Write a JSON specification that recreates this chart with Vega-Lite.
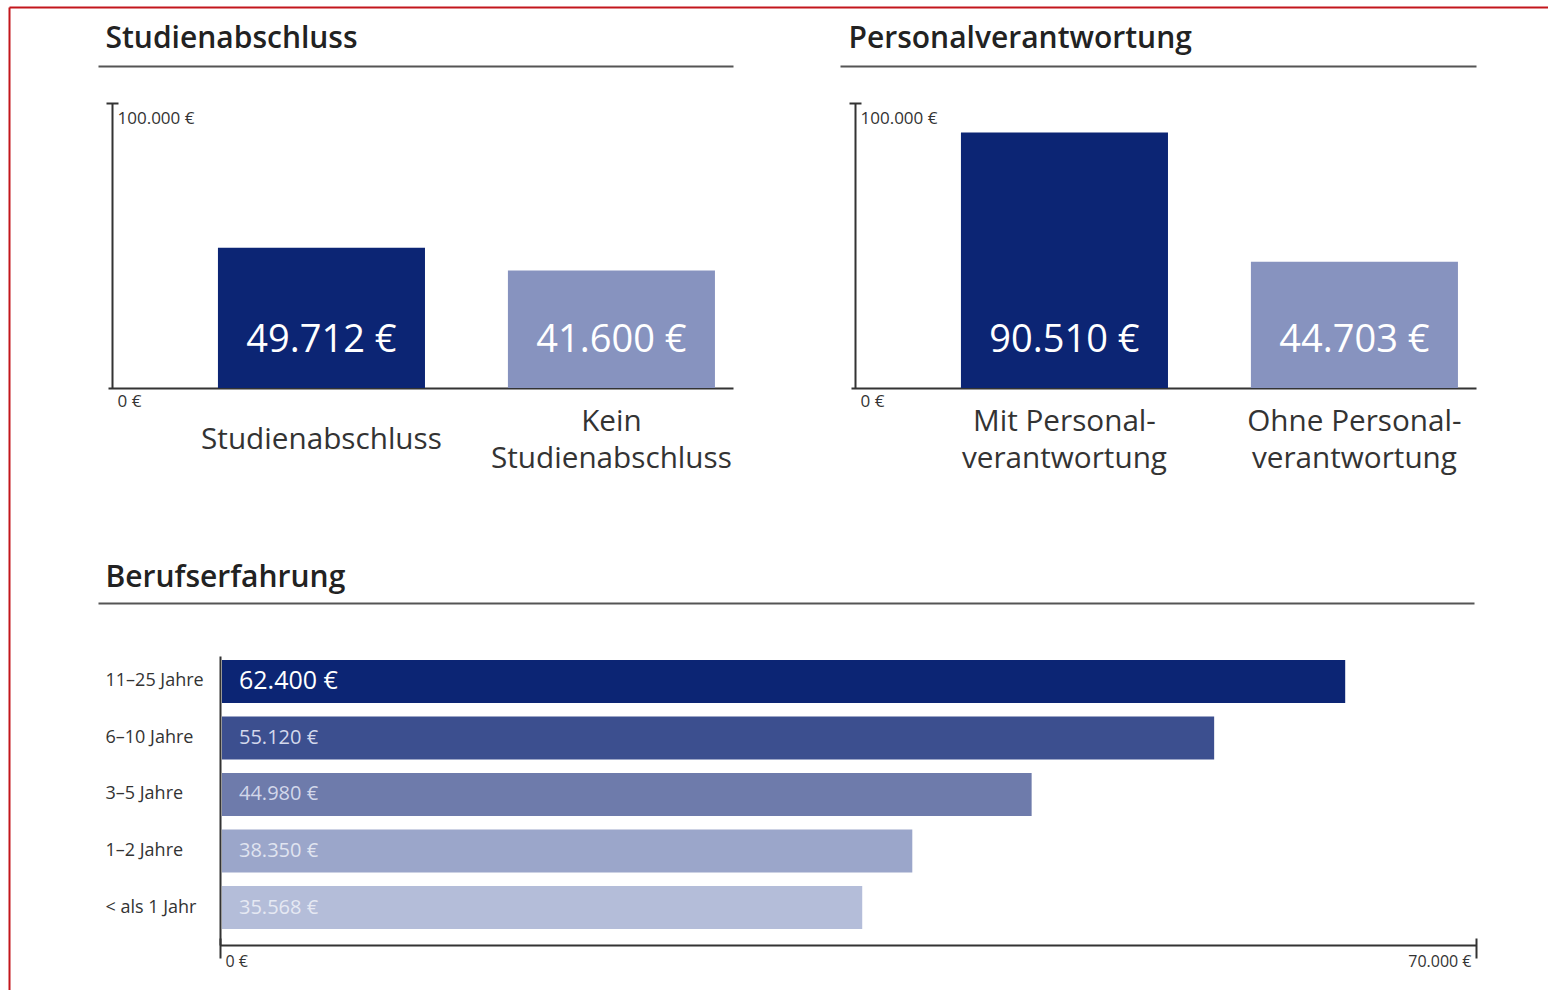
{
  "$schema": "https://vega.github.io/schema/vega-lite/v6.json",
  "width": 1548,
  "height": 990,
  "autosize": {"type": "fit", "contains": "padding"},
  "padding": 0,
  "background": "white",
  "config": {
    "view": {"stroke": null},
    "font": "Open Sans",
    "axis": {"grid": false, "labelFont": "Open Sans", "titleFont": "Open Sans"}
  },
  "datasets": {
    "studium": [
      {"cat": "Studienabschluss", "value": 49712, "label": "49.712 €"},
      {"cat": "Kein Studienabschluss", "value": 41600, "label": "41.600 €"}
    ],
    "personal": [
      {"cat": "Mit Personalverantwortung", "value": 90510, "label": "90.510 €"},
      {"cat": "Ohne Personalverantwortung", "value": 44703, "label": "44.703 €"}
    ],
    "erfahrung": [
      {"cat": "11–25 Jahre", "value": 62400, "label": "62.400 €"},
      {"cat": "6–10 Jahre", "value": 55120, "label": "55.120 €"},
      {"cat": "3–5 Jahre", "value": 44980, "label": "44.980 €"},
      {"cat": "1–2 Jahre", "value": 38350, "label": "38.350 €"},
      {"cat": "< als 1 Jahr", "value": 35568, "label": "35.568 €"}
    ]
  },
  "resolve": {
    "scale": {"x": "independent", "y": "independent", "color": "independent"},
    "axis": {"x": "independent", "y": "independent"}
  },
  "layer": [
    {
      "data": {"name": "studium"},
      "mark": {"type": "point", "opacity": 0, "size": 1},
      "encoding": {
        "x": {"datum": 0.5, "type": "quantitative", "scale": {"domain": [0, 1], "range": [9, 1548], "nice": false},
          "axis": {"orient": "top", "offset": -7, "domainColor": "#c3161c", "domainWidth": 2, "ticks": false, "labels": false, "title": null}},
        "y": {"datum": 0.5, "type": "quantitative", "scale": {"domain": [0, 1], "range": [990, 7], "nice": false},
          "axis": {"orient": "left", "offset": -9, "domainColor": "#c3161c", "domainWidth": 2, "ticks": false, "labels": false, "title": null}}
      }
    },
    {
      "data": {"name": "studium"},
      "mark": {"type": "bar"},
      "encoding": {
        "x": {"field": "cat", "type": "nominal", "sort": null,
          "scale": {"type": "band", "domain": ["Studienabschluss", "Kein Studienabschluss"], "range": [108, 733], "paddingInner": 0.286, "paddingOuter": 0.2207, "align": 0.859},
          "axis": {"orient": "bottom", "offset": -602, "domainColor": "#333", "domainWidth": 2, "ticks": false,
            "labelFontSize": 29.7, "labelColor": "#333", "labelBaseline": "middle", "labelLineHeight": 37,
            "labelPadding": {"condition": {"test": "datum.value == 'Studienabschluss'", "value": 51}, "value": 33},
            "labelLimit": 0, "labelAngle": 0, "labelOverlap": false, "title": null,
            "labelExpr": "datum.value == 'Kein Studienabschluss' ? ['Kein', 'Studienabschluss'] : datum.value"}},
        "y": {"field": "value", "type": "quantitative",
          "scale": {"domain": [0, 101000], "range": [388, 103], "nice": false},
          "axis": {"orient": "left", "offset": -112, "domainColor": "#333", "domainWidth": 2, "ticks": false, "values": [0, 100000],
            "labelExpr": "datum.value == 0 ? '0 €' : '100.000 €'", "labelAlign": "left", "labelBaseline": "top",
            "labelPadding": -5, "labelOffset": 5, "labelFontSize": 17, "labelColor": "#333", "title": null}},
        "color": {"field": "cat", "type": "nominal", "sort": null,
          "scale": {"domain": ["Studienabschluss", "Kein Studienabschluss"], "range": ["#0c2574", "#8793bf"]}, "legend": null}
      }
    },
    {
      "data": {"name": "studium"},
      "mark": {"type": "text", "color": "white", "fontSize": 38, "dy": -36, "baseline": "alphabetic", "align": "center"},
      "encoding": {
        "x": {"field": "cat", "type": "nominal", "sort": null,
          "scale": {"type": "band", "domain": ["Studienabschluss", "Kein Studienabschluss"], "range": [108, 733], "paddingInner": 0.286, "paddingOuter": 0.2207, "align": 0.859},
          "axis": null},
        "y": {"datum": 0, "type": "quantitative", "scale": {"domain": [0, 101000], "range": [388, 103], "nice": false}, "axis": null},
        "text": {"field": "label"}
      }
    },
    {
      "data": {"name": "studium"},
      "mark": {"type": "point", "opacity": 0, "size": 1},
      "encoding": {
        "x": {"datum": 0.5, "type": "quantitative", "scale": {"domain": [0, 1], "range": [98, 733], "nice": false},
          "axis": {"orient": "top", "offset": -66, "domainColor": "#555", "domainWidth": 2, "ticks": false, "labels": false,
            "title": "Studienabschluss", "titleX": 105, "titleY": -19, "titleAlign": "left", "titleBaseline": "alphabetic",
            "titleFontSize": 30, "titleFontWeight": 600, "titleColor": "#222"}},
        "y": {"datum": 50000, "type": "quantitative", "scale": {"domain": [0, 101000], "range": [388, 103], "nice": false},
          "axis": {"orient": "left", "offset": -118, "domain": false, "labels": false, "values": [101000], "tickSize": 12, "tickWidth": 2, "tickColor": "#333", "title": null}}
      }
    },
    {
      "data": {"name": "personal"},
      "mark": {"type": "bar"},
      "encoding": {
        "x": {"field": "cat", "type": "nominal", "sort": null,
          "scale": {"type": "band", "domain": ["Mit Personalverantwortung", "Ohne Personalverantwortung"], "range": [851, 1476], "paddingInner": 0.286, "paddingOuter": 0.2207, "align": 0.859},
          "axis": {"orient": "bottom", "offset": -602, "domainColor": "#333", "domainWidth": 2, "ticks": false,
            "labelFontSize": 29.7, "labelColor": "#333", "labelPadding": 33, "labelBaseline": "middle", "labelLineHeight": 37,
            "labelLimit": 0, "labelAngle": 0, "labelOverlap": false, "title": null,
            "labelExpr": "datum.value == 'Mit Personalverantwortung' ? ['Mit Personal-', 'verantwortung'] : ['Ohne Personal-', 'verantwortung']"}},
        "y": {"field": "value", "type": "quantitative",
          "scale": {"domain": [0, 101000], "range": [388, 103], "nice": false},
          "axis": {"orient": "left", "offset": -855, "domainColor": "#333", "domainWidth": 2, "ticks": false, "values": [0, 100000],
            "labelExpr": "datum.value == 0 ? '0 €' : '100.000 €'", "labelAlign": "left", "labelBaseline": "top",
            "labelPadding": -5, "labelOffset": 5, "labelFontSize": 17, "labelColor": "#333", "title": null}},
        "color": {"field": "cat", "type": "nominal", "sort": null,
          "scale": {"domain": ["Mit Personalverantwortung", "Ohne Personalverantwortung"], "range": ["#0c2574", "#8793bf"]}, "legend": null}
      }
    },
    {
      "data": {"name": "personal"},
      "mark": {"type": "text", "color": "white", "fontSize": 38, "dy": -36, "baseline": "alphabetic", "align": "center"},
      "encoding": {
        "x": {"field": "cat", "type": "nominal", "sort": null,
          "scale": {"type": "band", "domain": ["Mit Personalverantwortung", "Ohne Personalverantwortung"], "range": [851, 1476], "paddingInner": 0.286, "paddingOuter": 0.2207, "align": 0.859},
          "axis": null},
        "y": {"datum": 0, "type": "quantitative", "scale": {"domain": [0, 101000], "range": [388, 103], "nice": false}, "axis": null},
        "text": {"field": "label"}
      }
    },
    {
      "data": {"name": "personal"},
      "mark": {"type": "point", "opacity": 0, "size": 1},
      "encoding": {
        "x": {"datum": 0.5, "type": "quantitative", "scale": {"domain": [0, 1], "range": [840, 1476], "nice": false},
          "axis": {"orient": "top", "offset": -66, "domainColor": "#555", "domainWidth": 2, "ticks": false, "labels": false,
            "title": "Personalverantwortung", "titleX": 848, "titleY": -19, "titleAlign": "left", "titleBaseline": "alphabetic",
            "titleFontSize": 30, "titleFontWeight": 600, "titleColor": "#222"}},
        "y": {"datum": 50000, "type": "quantitative", "scale": {"domain": [0, 101000], "range": [388, 103], "nice": false},
          "axis": {"orient": "left", "offset": -861, "domain": false, "labels": false, "values": [101000], "tickSize": 12, "tickWidth": 2, "tickColor": "#333", "title": null}}
      }
    },
    {
      "data": {"name": "erfahrung"},
      "mark": {"type": "bar"},
      "encoding": {
        "y": {"field": "cat", "type": "nominal", "sort": null,
          "scale": {"type": "band", "domain": ["11–25 Jahre", "6–10 Jahre", "3–5 Jahre", "1–2 Jahre", "< als 1 Jahr"], "range": [656, 945], "paddingInner": 0.239, "paddingOuter": 0.177, "align": 0.2},
          "axis": {"orient": "left", "offset": -220, "domainColor": "#333", "domainWidth": 2, "ticks": false,
            "labelAlign": "left", "labelPadding": 115, "labelBaseline": "middle", "labelFontSize": 18, "labelColor": "#333",
            "labelLimit": 0, "labelOverlap": false, "title": null}},
        "x": {"field": "value", "type": "quantitative", "scale": {"domain": [0, 70000], "range": [222, 1482], "nice": false}, "axis": null},
        "color": {"field": "cat", "type": "nominal", "sort": null,
          "scale": {"domain": ["11–25 Jahre", "6–10 Jahre", "3–5 Jahre", "1–2 Jahre", "< als 1 Jahr"], "range": ["#0c2574", "#3c4f8f", "#6e7bab", "#9ba6ca", "#b4bdd9"]}, "legend": null}
      }
    },
    {
      "data": {"name": "erfahrung"},
      "mark": {"type": "text", "align": "left", "baseline": "middle", "dx": 19},
      "encoding": {
        "y": {"field": "cat", "type": "nominal", "sort": null,
          "scale": {"type": "band", "domain": ["11–25 Jahre", "6–10 Jahre", "3–5 Jahre", "1–2 Jahre", "< als 1 Jahr"], "range": [656, 945], "paddingInner": 0.239, "paddingOuter": 0.177, "align": 0.2},
          "axis": null},
        "x": {"datum": 0, "type": "quantitative", "scale": {"domain": [0, 70000], "range": [220, 1476], "nice": false},
          "axis": {"orient": "bottom", "offset": -45, "domainColor": "#333", "domainWidth": 2, "ticks": false, "labels": false, "title": null}},
        "text": {"field": "label"},
        "color": {"field": "cat", "type": "nominal", "sort": null,
          "scale": {"domain": ["11–25 Jahre", "6–10 Jahre", "3–5 Jahre", "1–2 Jahre", "< als 1 Jahr"], "range": ["#ffffff", "#d3d8ec", "#d2d7ea", "#e0e4f0", "#e6e9f3"]}, "legend": null},
        "size": {"condition": {"test": "datum.value > 60000", "value": 25}, "value": 20}
      }
    },
    {
      "data": {"name": "erfahrung"},
      "mark": {"type": "point", "opacity": 0, "size": 1},
      "encoding": {
        "x": {"datum": 0, "type": "quantitative", "scale": {"domain": [0, 70000], "range": [220, 1476], "nice": false},
          "axis": {"orient": "bottom", "offset": -52, "domain": false, "values": [0, 70000], "tickSize": 20, "tickWidth": 2, "tickColor": "#333",
            "labelFlush": true, "labelFlushOffset": -5, "labelPadding": -5, "labelBaseline": "top", "labelFontSize": 16, "labelColor": "#333",
            "labelExpr": "datum.value == 0 ? '0 €' : '70.000 €'", "labelOverlap": false, "title": null}}
      }
    },
    {
      "data": {"name": "erfahrung"},
      "mark": {"type": "point", "opacity": 0, "size": 1},
      "encoding": {
        "x": {"datum": 0.5, "type": "quantitative", "scale": {"domain": [0, 1], "range": [98, 1474], "nice": false},
          "axis": {"orient": "top", "offset": -603, "domainColor": "#555", "domainWidth": 2, "ticks": false, "labels": false,
            "title": "Berufserfahrung", "titleX": 105, "titleY": -17, "titleAlign": "left", "titleBaseline": "alphabetic",
            "titleFontSize": 30, "titleFontWeight": 600, "titleColor": "#222"}}
      }
    }
  ]
}
